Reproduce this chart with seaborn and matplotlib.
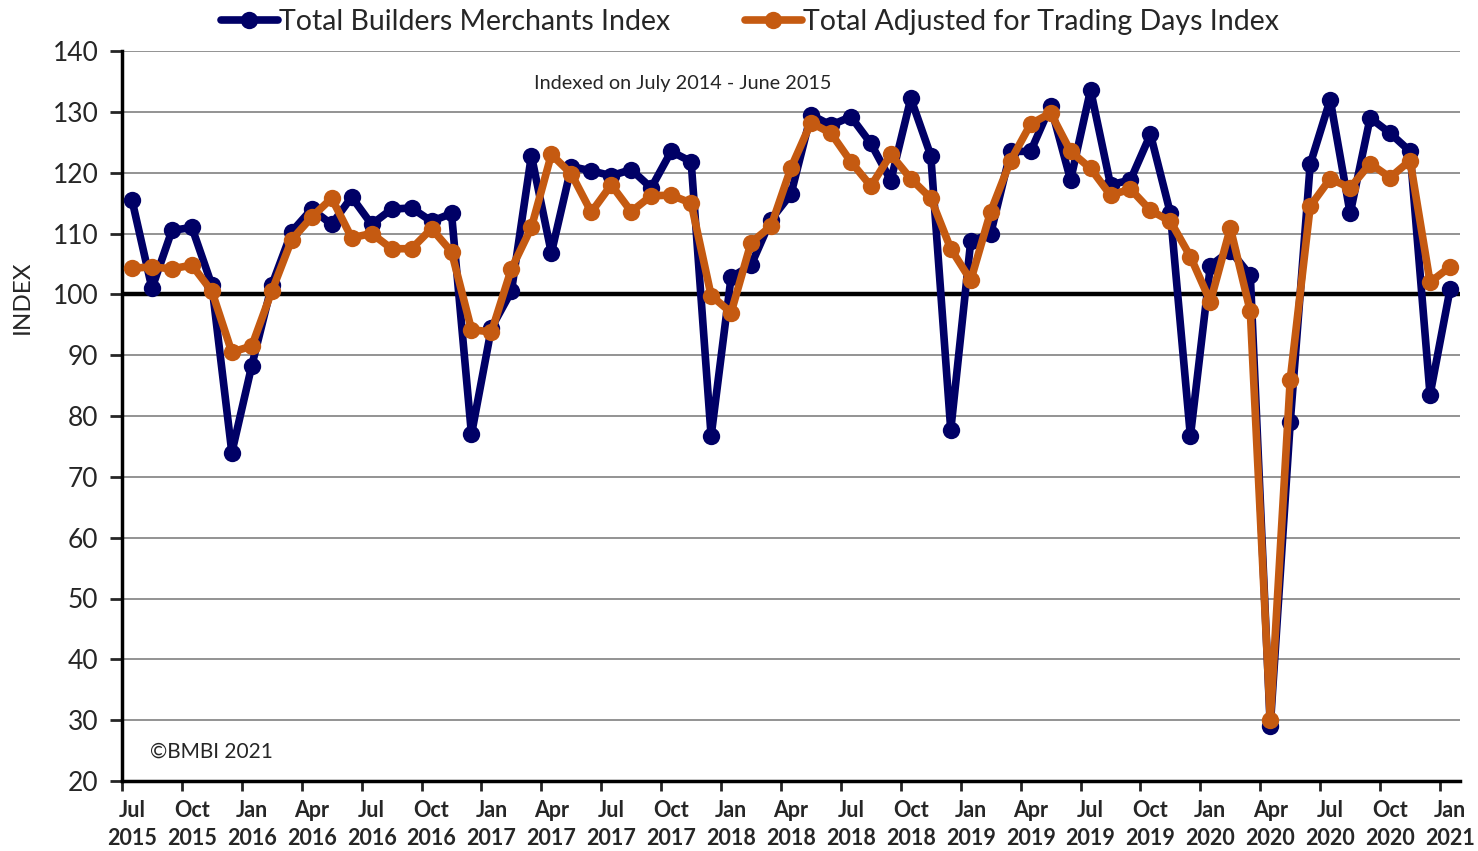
import numpy as np
import pandas as pd
import matplotlib
matplotlib.use('Agg')
import matplotlib.pyplot as plt
import seaborn as sns

# monthly index values, Jul 2015 - Jan 2021
months = pd.date_range('2015-07-01', '2021-01-01', freq='MS')

total_index = [
    115.5, 101.0, 110.5, 111.0, 101.5, 74.0, 88.3, 101.5, 110.3, 114.0, 111.5, 116.0,
    111.5, 114.0, 114.2, 112.0, 113.3, 77.0, 94.5, 100.5, 122.8, 106.8, 121.0, 120.3,
    119.5, 120.5, 117.5, 123.5, 121.8, 76.7, 102.8, 104.8, 112.3, 116.5, 129.5, 127.8,
    129.2, 124.8, 118.7, 132.2, 122.8, 77.7, 108.7, 110.0, 123.5, 123.5, 131.0, 118.8,
    133.6, 118.0, 118.8, 126.3, 113.3, 76.7, 104.7, 107.2, 103.1, 29.0, 79.0, 121.4,
    132.0, 113.3, 129.0, 126.5, 123.5, 83.5, 100.8,
]
adjusted_index = [
    104.3, 104.5, 104.2, 104.8, 100.5, 90.5, 91.5, 100.5, 109.0, 112.7, 115.8, 109.3,
    110.0, 107.5, 107.5, 110.8, 107.0, 94.2, 93.8, 104.2, 111.0, 123.0, 119.8, 113.5,
    118.0, 113.6, 116.2, 116.3, 115.0, 99.8, 97.0, 108.5, 111.2, 120.8, 128.2, 126.5,
    121.8, 117.8, 123.0, 119.0, 115.8, 107.5, 102.3, 113.6, 122.0, 128.0, 129.8, 123.5,
    120.7, 116.3, 117.3, 113.8, 112.0, 106.2, 98.8, 110.9, 97.2, 30.0, 86.0, 114.5,
    119.0, 117.5, 121.5, 119.2, 122.0, 102.0, 104.5,
]

df = pd.DataFrame({
    'pos': np.arange(len(months)),
    'total': total_index,
    'adjusted': adjusted_index,
})
tick_labels = [f"{m.strftime('%b')}\n{m.year}" for m in months[::3]]

sns.set_theme(style='white')
plt.rcParams['font.family'] = ['Lato', 'DejaVu Sans']

NAVY = '#000066'
ORANGE = '#C55A11'

fig = plt.figure(figsize=(14.78, 8.51), dpi=100)
ax = fig.add_axes([122 / 1478, 70 / 851, (1460 - 122) / 1478, (781 - 51) / 851])

for y in range(30, 150, 10):
    ax.axhline(y, color='#808080', lw=1.2, zorder=0)

sns.lineplot(data=df, x='pos', y='total', ax=ax, color=NAVY, lw=5.5, marker='o',
             markersize=12.5, markeredgewidth=0, label='Total Builders Merchants Index', zorder=3)
sns.lineplot(data=df, x='pos', y='adjusted', ax=ax, color=ORANGE, lw=5.5, marker='o',
             markersize=12.5, markeredgewidth=0, label='Total Adjusted for Trading Days Index', zorder=4)

ax.axhline(100, color='black', lw=3.2, zorder=2)

ax.set_xlim(-0.5, len(months) - 0.5)
ax.set_ylim(20, 140)
ax.set_yticks(range(20, 150, 10))
ax.tick_params(axis='y', labelsize=19, length=9, width=2, direction='out', left=True, pad=8)

ax.set_xticks(df['pos'][::3])
ax.set_xticklabels(tick_labels, fontweight='bold', fontsize=15.5, linespacing=1.4)
ax.set_xticks(np.arange(-0.5, len(months), 3), minor=True)
ax.tick_params(axis='x', which='major', length=0, pad=14)
ax.tick_params(axis='x', which='minor', length=7, width=2, direction='out', bottom=True)

ax.set_xlabel('')
ax.set_ylabel('INDEX', fontsize=17.5)
ax.yaxis.set_label_coords(-0.067, 0.663)

for side in ['top', 'right']:
    ax.spines[side].set_visible(False)
ax.spines['left'].set_linewidth(2.5)
ax.spines['bottom'].set_linewidth(2.5)
ax.spines['left'].set_color('black')
ax.spines['bottom'].set_color('black')

ax.text(0.419, 0.955, 'Indexed on July 2014 - June 2015', transform=ax.transAxes,
        ha='center', va='center', fontsize=14.3)
ax.text(0.021, 0.04, '\u00a9BMBI 2021', transform=ax.transAxes,
        ha='left', va='center', fontsize=15)

ax.legend_.remove()
handles, labels = ax.get_legend_handles_labels()
fig.legend(handles, labels, loc='center', bbox_to_anchor=(750 / 1478, 1 - 22 / 851), ncol=2,
           frameon=False, fontsize=20.5, handlelength=2.0, handletextpad=0.05, columnspacing=2.6)

fig.savefig('out.png', dpi=100)
